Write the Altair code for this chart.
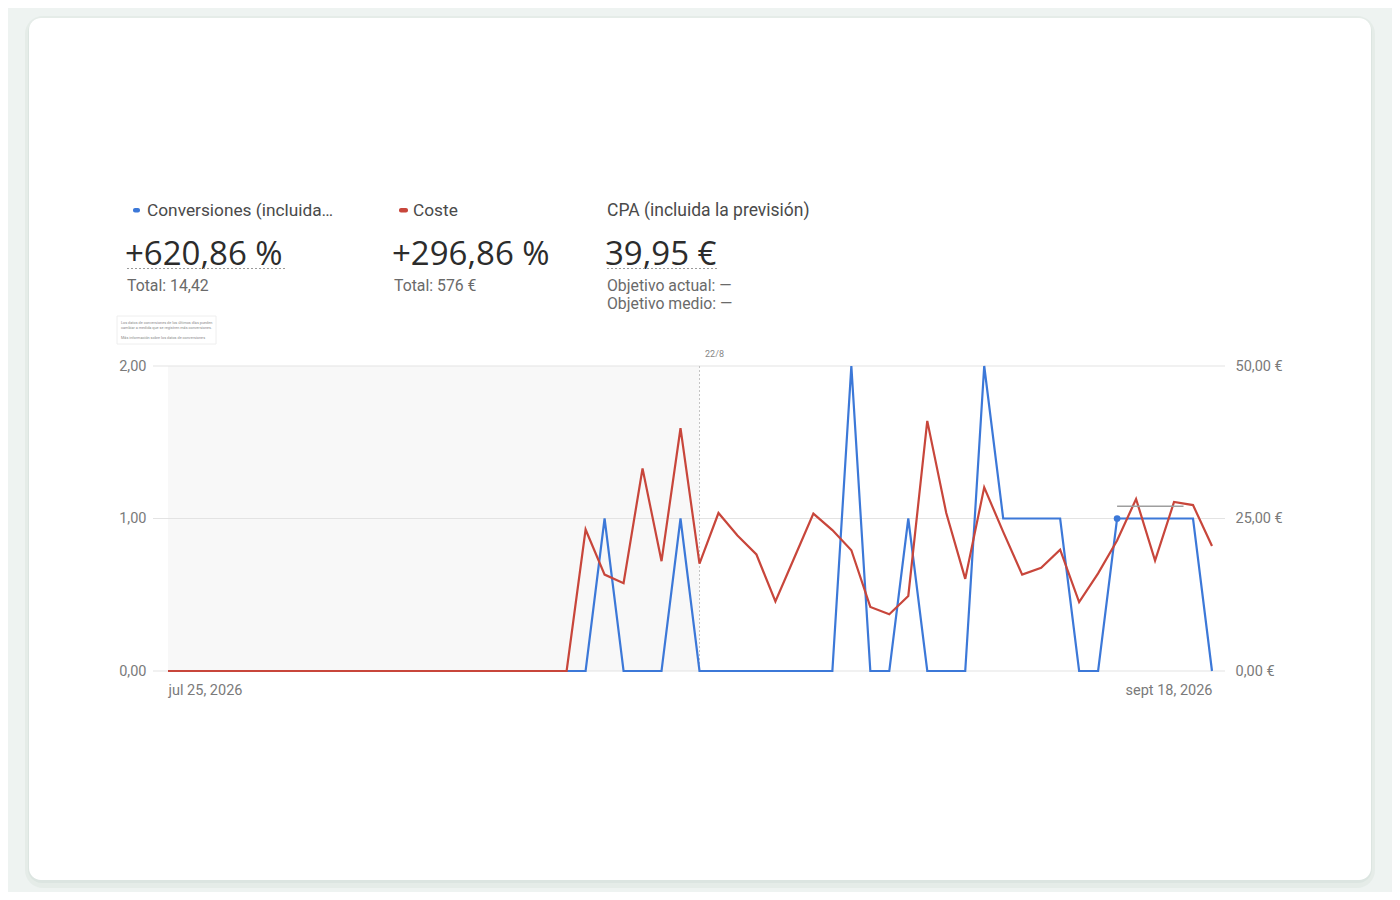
import altair as alt
import pandas as pd

# daily values, jul 25 .. sept 18, 2026
dates = pd.date_range("2026-07-25", "2026-09-18", freq="D").strftime("%Y-%m-%d").tolist()

conversiones = [0] * 23 + [1, 0, 0, 0, 1] + [0] * 8 + [2, 0, 0, 1, 0, 0, 0, 2,
                1, 1, 1, 1, 0, 0, 1, 1, 1, 1, 1, 0]

coste = [0] * 22 + [23.2, 15.8, 14.4, 33.2, 18.0, 39.8, 17.6, 25.9, 22.2, 19.1,
                    11.4, 18.6, 25.8, 23.1, 19.8, 10.5, 9.3, 12.3, 41.0, 25.9,
                    15.1, 30.1, 22.8, 15.8, 16.9, 19.9, 11.3, 16.0, 21.4, 28.2,
                    18.1, 27.7, 27.2, 20.5]

shade_start, shade_end = "2026-07-25", "2026-08-22"
forecast_day = "2026-09-13"
target_end = "2026-09-16T12:00:00"
target_level = 27.0

df = pd.DataFrame({"date": dates, "conv": conversiones, "cost": coste})

BLUE = "#3c78d8"
RED = "#c8463b"
GRAY = "#7a7a7a"
FONT = "Roboto"
BIG_FONT = "Open Sans"

# plot area origin in page pixels
OX, OY = 168, 366
W, H = 1044, 305


def px(x):
    return alt.value(x - OX)


def py(y):
    return alt.value(y - OY)


one = pd.DataFrame({"k": [0]})

x_dom = [alt.DateTime(year=2026, month=7, date=25, utc=True),
         alt.DateTime(year=2026, month=9, date=18, utc=True)]
x_scale = alt.Scale(type="utc", domain=x_dom)
x_axis = alt.Axis(
    values=x_dom, title=None, grid=False, ticks=False, domain=False,
    labelFlush=True, labelOverlap=False, labelPadding=12,
    labelColor=GRAY, labelFontSize=14.5, labelFont=FONT, zindex=1,
    labelExpr="['ene','feb','mar','abr','may','jun','jul','ago','sept','oct','nov','dic']"
              "[utcmonth(datum.value)] + ' ' + utcdate(datum.value) + ', ' + utcyear(datum.value)",
)
conv_scale = alt.Scale(domain=[0, 2], nice=False)
cost_scale = alt.Scale(domain=[0, 50], nice=False)

# card + shadow
shadow_outer = alt.Chart(one).mark_rect(cornerRadius=18, color="#e2eae6", opacity=0.8).encode(
    x=px(25), x2=px(1375), y=py(16), y2=py(888))
shadow = alt.Chart(one).mark_rect(cornerRadius=14, color="#d9e3de", opacity=0.8).encode(
    x=px(28), x2=px(1372), y=py(18), y2=py(883))
card = alt.Chart(one).mark_rect(cornerRadius=12, color="white").encode(
    x=px(29), x2=px(1371), y=py(18), y2=py(880))

shade = alt.Chart(pd.DataFrame({"a": [shade_start], "b": [shade_end]})).mark_rect(
    color="#f8f8f8").encode(
    x=alt.X("a:T", scale=x_scale, axis=x_axis), x2="b:T", y=alt.value(0), y2=alt.value(H))

grid = alt.Chart(pd.DataFrame({"g": [0, 1, 2]})).mark_rule(color="#e3e3e3", strokeWidth=1).encode(
    y=alt.Y("g:Q", scale=conv_scale, axis=None), x=px(153), x2=px(1225))

divider = alt.Chart(pd.DataFrame({"a": [shade_end]})).mark_rule(
    color="#c4c4c4", strokeDash=[2, 2], strokeWidth=1).encode(
    x=alt.X("a:T", scale=x_scale, axis=x_axis), y=alt.value(0), y2=alt.value(H))
divider_label = alt.Chart(pd.DataFrame({"a": [shade_end], "t": ["22/8"]})).mark_text(
    font=FONT, fontSize=9, color="#888888", dx=15, baseline="middle").encode(
    x=alt.X("a:T", scale=x_scale, axis=x_axis), y=py(354), text="t:N")

blue_line = alt.Chart(df).mark_line(color=BLUE, strokeWidth=2.2).encode(
    x=alt.X("date:T", scale=x_scale, axis=x_axis),
    y=alt.Y("conv:Q", scale=conv_scale, axis=alt.Axis(
        orient="left", values=[0, 1, 2], title=None, grid=False, ticks=False, domain=False,
        labelPadding=22, labelColor=GRAY, labelFontSize=14.5, labelFont=FONT, zindex=1,
        labelExpr="replace(format(datum.value, '.2f'), '.', ',')")))

red_line = alt.Chart(df).mark_line(color=RED, strokeWidth=2.2).encode(
    x=alt.X("date:T", scale=x_scale, axis=x_axis),
    y=alt.Y("cost:Q", scale=cost_scale, axis=alt.Axis(
        orient="right", values=[0, 25, 50], title=None, grid=False, ticks=False, domain=False,
        labelPadding=23, labelColor=GRAY, labelFontSize=14.5, labelFont=FONT, zindex=1,
        labelExpr="replace(format(datum.value, '.2f'), '.', ',') + ' €'")))

target = alt.Chart(pd.DataFrame({"a": [forecast_day], "b": [target_end], "v": [target_level]})).mark_rule(
    color="#9e9e9e", strokeWidth=1.5).encode(
    x=alt.X("a:T", scale=x_scale, axis=x_axis), x2="b:T",
    y=alt.Y("v:Q", scale=cost_scale, axis=None))

dot = alt.Chart(df[df["date"] == forecast_day]).mark_point(
    filled=True, color=BLUE, size=45, opacity=1).encode(
    x=alt.X("date:T", scale=x_scale, axis=x_axis),
    y=alt.Y("conv:Q", scale=conv_scale, axis=None))


def txt(s, x, y, size, color, font=FONT):
    return alt.Chart(pd.DataFrame({"t": [s]})).mark_text(
        align="left", baseline="middle", font=font, fontSize=size, color=color).encode(
        x=px(x), y=py(y), text="t:N")


def swatch(x1, x2, color):
    return alt.Chart(one).mark_rect(color=color, cornerRadius=2).encode(
        x=px(x1), x2=px(x2), y=py(208), y2=py(212.5))


def underline(x1, x2):
    return alt.Chart(one).mark_rule(color="#9a9a9a", strokeDash=[2, 2], strokeWidth=1).encode(
        x=px(x1), x2=px(x2), y=py(268.5))


header = [
    swatch(133, 140, BLUE), txt("Conversiones (incluida…", 147, 210.5, 17.3, "#4a4a4a"),
    swatch(399, 408, RED), txt("Coste", 413, 210.5, 17.3, "#4a4a4a"),
    txt("CPA (incluida la previsión)", 607, 210.5, 17.5, "#4a4a4a"),
    txt("+620,86 %", 125, 255, 33, "#2c2c2c", BIG_FONT), underline(127, 285),
    txt("Total: 14,42", 127, 286, 15.8, "#6a6a6a"),
    txt("+296,86 %", 392, 255, 33, "#2c2c2c", BIG_FONT),
    txt("Total: 576 €", 394, 286, 15.8, "#6a6a6a"),
    txt("39,95 €", 605, 255, 33, "#2c2c2c", BIG_FONT), underline(607, 717),
    txt("Objetivo actual: —", 607, 286, 15.8, "#6a6a6a"),
    txt("Objetivo medio: —", 607, 304, 15.8, "#6a6a6a"),
]

# the tiny notice box above the plot
notice_box = alt.Chart(one).mark_rect(color="white", stroke="#eeeeee", strokeWidth=1).encode(
    x=px(117), x2=px(216), y=py(316), y2=py(344))
notice = [
    txt("Los datos de conversiones de los últimos días pueden", 121, 323, 3.8, "#8a8a8a"),
    txt("cambiar a medida que se registren más conversiones.", 121, 328, 3.8, "#8a8a8a"),
    txt("Más información sobre los datos de conversiones", 121, 338, 3.8, "#8a8a8a"),
]

chart = alt.layer(
    shadow_outer, shadow, card, notice_box, *notice, *header,
    shade, grid, divider, divider_label, blue_line, red_line, target, dot,
).resolve_scale(
    y="independent"
).properties(
    width=W, height=H,
    autosize=alt.AutoSizeParams(type="none"),
    padding={"left": OX - 8, "top": OY - 8, "right": 1392 - OX - W, "bottom": 892 - OY - H},
    background="#eef3f1",
).configure_view(
    stroke=None, fill=None
)

chart.save("out.html", embed_options={"renderer": "svg", "actions": False})
